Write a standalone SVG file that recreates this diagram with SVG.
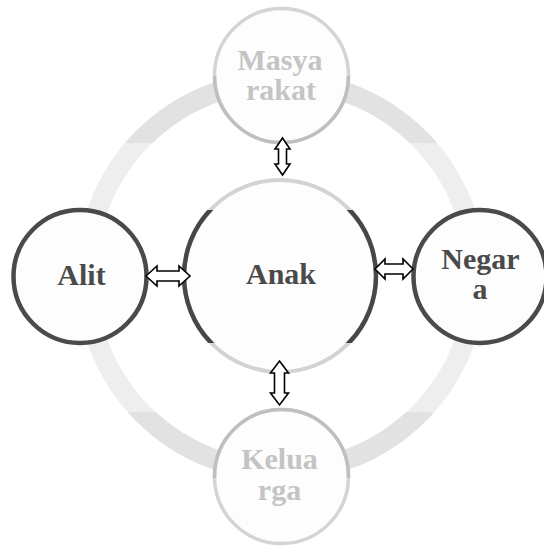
<svg xmlns="http://www.w3.org/2000/svg" width="544" height="546" viewBox="0 0 544 546">
<style>
.lbl{font-family:"Liberation Serif","Times New Roman",serif;font-weight:bold;font-size:30px;text-anchor:middle}
.dk{fill:#4a4a4a}
.lt{fill:#c4c4c4}
.fillc{fill:#fdfdfd}
.arr{fill:#ffffff;stroke:#000000;stroke-width:1.6;stroke-linejoin:miter}
</style>
<defs>
<clipPath id="cOuter"><rect x="0" y="0" width="544" height="143"/><rect x="0" y="412" width="544" height="134"/></clipPath>
<clipPath id="cMid"><rect x="0" y="210" width="544" height="133"/></clipPath>
<clipPath id="cLow"><rect x="0" y="76" width="544" height="100"/></clipPath>
<clipPath id="cUp"><rect x="0" y="400" width="544" height="78"/></clipPath>
</defs>
<rect width="544" height="546" fill="#ffffff"/>
<g id="ring">
<circle cx="281" cy="276" r="195" fill="none" stroke="#eeeeee" stroke-width="20"/>
<circle cx="281" cy="276" r="195" fill="none" stroke="#e2e2e2" stroke-width="20" clip-path="url(#cOuter)"/>
</g>
<g id="node-anak">
<circle class="fillc" cx="280" cy="276" r="96" stroke="#d3d3d3" stroke-width="4"/>
<circle cx="280" cy="276" r="96" fill="none" stroke="#474747" stroke-width="4.5" clip-path="url(#cMid)"/>
<text class="lbl dk" x="281" y="284">Anak</text>
</g>
<g id="node-masyarakat">
<circle class="fillc" cx="281.5" cy="75.5" r="67" stroke="#d4d4d4" stroke-width="3.5"/>
<circle cx="281.5" cy="75.5" r="67" fill="none" stroke="#bfbfbf" stroke-width="3.5" clip-path="url(#cLow)"/>
<text class="lbl lt" x="280" y="70">Masya</text>
<text class="lbl lt" x="281" y="100">rakat</text>
</g>
<g id="node-keluarga">
<circle class="fillc" cx="281.5" cy="476.5" r="67" stroke="#d4d4d4" stroke-width="3.5"/>
<circle cx="281.5" cy="476.5" r="67" fill="none" stroke="#bfbfbf" stroke-width="3.5" clip-path="url(#cUp)"/>
<text class="lbl lt" x="279.5" y="469">Kelua</text>
<text class="lbl lt" x="279.5" y="500">rga</text>
</g>
<g id="node-alit">
<circle class="fillc" cx="80" cy="276.5" r="66.5" stroke="#4a4a4a" stroke-width="4.5"/>
<text class="lbl dk" x="81.5" y="285">Alit</text>
</g>
<g id="node-negara">
<circle class="fillc" cx="480" cy="276.5" r="66.5" stroke="#4a4a4a" stroke-width="4.5"/>
<text class="lbl dk" x="480.5" y="269">Negar</text>
<text class="lbl dk" x="480" y="299">a</text>
</g>
<g id="connectors">
<polygon class="arr" points="282.5,138 290,149 286.5,149 286.5,164 290,164 282.5,175 275,164 278.5,164 278.5,149 275,149"/>
<polygon class="arr" points="279.5,361 288.5,373 284.5,373 284.5,393 288.5,393 279.5,405 270.5,393 274.5,393 274.5,373 270.5,373"/>
<polygon class="arr" points="146,276 157,266 157,271 179,271 179,266 190,276 179,286 179,281 157,281 157,286"/>
<polygon class="arr" points="375,269 385,259 385,264 403,264 403,259 413,269 403,279 403,274 385,274 385,279"/>
</g>
</svg>
